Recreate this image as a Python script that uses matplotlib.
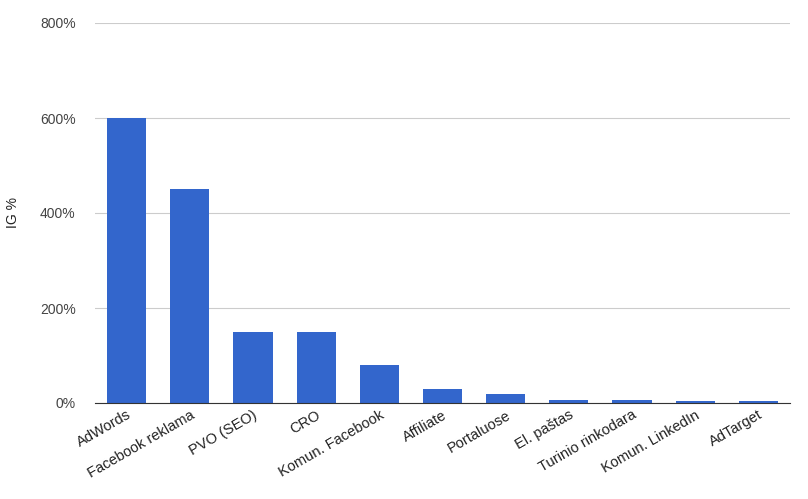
import matplotlib
matplotlib.use("Agg")
import matplotlib.pyplot as plt
from matplotlib.ticker import FuncFormatter

categories = ["AdWords", "Facebook reklama", "PVO (SEO)", "CRO", "Komun. Facebook",
              "Affiliate", "Portaluose", "El. paštas", "Turinio rinkodara",
              "Komun. LinkedIn", "AdTarget"]
values = [600, 450, 150, 150, 80, 30, 20, 6, 6, 4, 4]
yticks = [0, 200, 400, 600, 800]

plt.rcParams['font.family'] = ['Liberation Sans', 'DejaVu Sans']
fig = plt.figure(figsize=(8.08, 4.99), dpi=100)
ax = fig.add_axes([95/808, 1-403/499, 695/808, 380/499])
x = range(len(categories))
ax.bar(x, values, width=0.62, color="#3366cc", zorder=2)
ax.set_xlim(-0.5, len(categories)-0.5)
ax.set_ylim(0, 800)
ax.set_yticks(yticks)
ax.yaxis.set_major_formatter(FuncFormatter(lambda v, p: f"{int(v)}%"))
ax.grid(axis="y", color="#cccccc", linewidth=0.8, zorder=0)
for s in ["top", "right", "left"]:
    ax.spines[s].set_visible(False)
ax.spines["bottom"].set_color("#333333")
ax.tick_params(axis="y", length=0, labelsize=10, colors="#444444", pad=14)
ax.tick_params(axis="x", length=0, labelsize=10.5, colors="#222222")
ax.set_xticks(list(x))
ax.set_xticklabels(categories, rotation=30, ha="right", rotation_mode="anchor")
ax.set_ylabel("IG %", fontsize=10, color="#222222", labelpad=14)
fig.savefig("out.png", dpi=100)
